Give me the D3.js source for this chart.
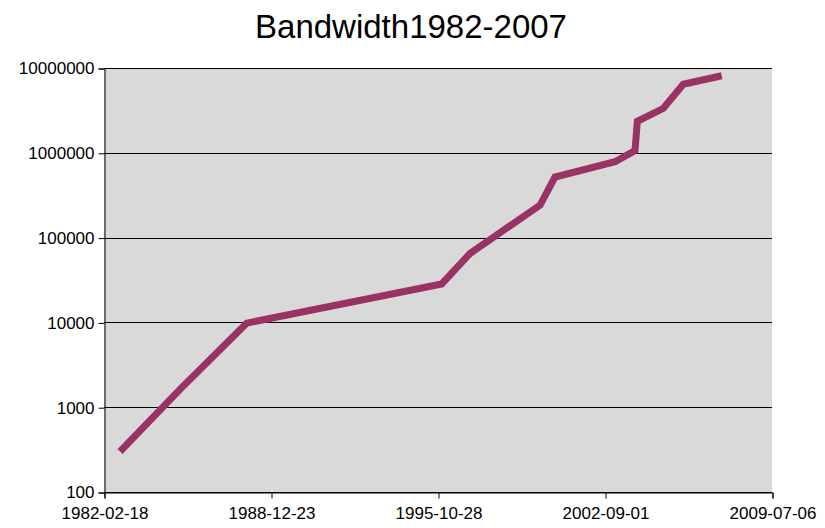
<!DOCTYPE html>
<html>
<head>
<meta charset="utf-8">
<script src="https://cdn.jsdelivr.net/npm/d3@7"></script>
<style>
  html, body { margin: 0; padding: 0; background: #ffffff; }
  svg { display: block; }
  text { font-family: "Liberation Sans", Arial, sans-serif; fill: #000; }
</style>
</head>
<body>
<svg id="chart" width="825" height="528"></svg>
<script>
const title = "Bandwidth1982-2007";
const dates = ["1982-10-16", "1985-04-26", "1987-12-25", "1995-12-22", "1997-02-19", "2000-01-03",
               "2000-08-13", "2003-01-29", "2003-11-24", "2003-12-29", "2005-01-22", "2005-11-16", "2007-06-14"];
const bandwidth = [300, 1700, 9800, 28400, 65000, 242000, 518000, 785000, 1060000, 2350000, 3350000, 6430000, 8100000];
const xTickLabels = ["1982-02-18", "1988-12-23", "1995-10-28", "2002-09-01", "2009-07-06"];
const yTickValues = [100, 1000, 10000, 100000, 1000000, 10000000];

const svg = d3.select("#chart");
const margin = { left: 104, right: 53, top: 68, bottom: 36 };
const W = 825, H = 528;

const parse = d3.utcParse("%Y-%m-%d");
const x = d3.scaleUtc()
  .domain([parse(xTickLabels[0]), parse(xTickLabels[xTickLabels.length - 1])])
  .range([margin.left, W - margin.right]);
const y = d3.scaleLog()
  .domain([100, 10000000])
  .range([H - margin.bottom, margin.top]);

// plot background
svg.append("rect")
  .attr("x", margin.left).attr("y", margin.top)
  .attr("width", W - margin.left - margin.right)
  .attr("height", H - margin.top - margin.bottom)
  .attr("fill", "#d9d9d9");

// gridlines
svg.append("g")
  .selectAll("line")
  .data(yTickValues)
  .join("line")
  .attr("x1", margin.left).attr("x2", W - margin.right)
  .attr("y1", d => Math.round(y(d)) + 0.5).attr("y2", d => Math.round(y(d)) + 0.5)
  .attr("stroke", "#000").attr("stroke-width", 1);

// y axis
const yAxis = d3.axisLeft(y)
  .tickValues(yTickValues)
  .tickFormat(d3.format("d"))
  .tickSizeOuter(0)
  .tickSize(6)
  .tickPadding(4);
const gy = svg.append("g")
  .attr("transform", `translate(${margin.left + 0.5},0.5)`)
  .call(yAxis);
gy.selectAll("text").style("font-size", "17px").style("font-family", '"Liberation Sans", Arial, sans-serif');
gy.select(".domain").attr("stroke", "#000");

// x axis
const xAxis = d3.axisBottom(x)
  .tickValues(xTickLabels.map(parse))
  .tickFormat(d3.utcFormat("%Y-%m-%d"))
  .tickSizeOuter(0)
  .tickSize(6)
  .tickPadding(8);
const gx = svg.append("g")
  .attr("transform", `translate(0.5,${H - margin.bottom + 0.5})`)
  .call(xAxis);
gx.selectAll("text").style("font-size", "17px").style("font-family", '"Liberation Sans", Arial, sans-serif');
gx.select(".domain").attr("stroke", "#000");

// line
const data = dates.map((d, i) => ({ date: parse(d), value: bandwidth[i] }));
const line = d3.line()
  .x(d => x(d.date))
  .y(d => y(d.value));
svg.append("path")
  .datum(data)
  .attr("d", line)
  .attr("fill", "none")
  .attr("stroke", "#993366")
  .attr("stroke-width", 7)
  .attr("stroke-linejoin", "miter")
  .attr("stroke-linecap", "butt");

// title
svg.append("text")
  .attr("x", 411).attr("y", 38)
  .attr("text-anchor", "middle")
  .style("font-size", "33px")
  .text(title);
</script>
</body>
</html>
